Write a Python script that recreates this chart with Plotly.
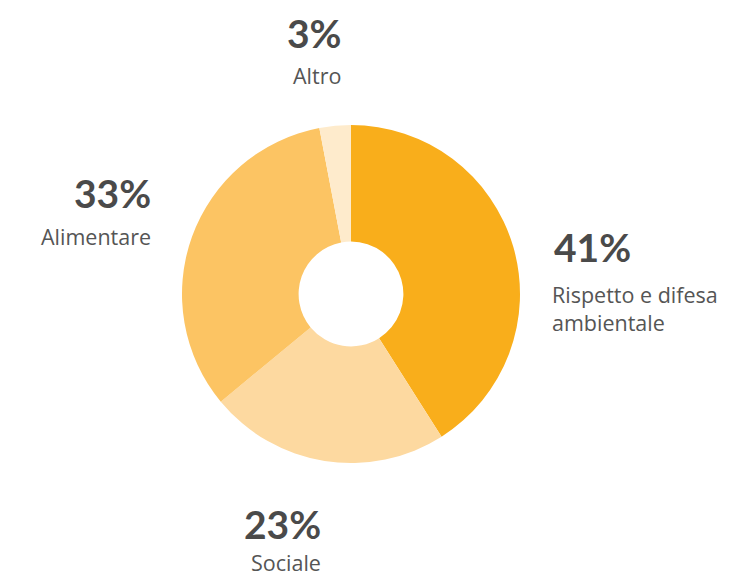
import plotly.graph_objects as go

labels = ["Rispetto e difesa<br>ambientale", "Sociale", "Alimentare", "Altro"]
values = [41, 23, 33, 3]
colors = ["#F9AE1B", "#FDD9A0", "#FCC463", "#FEEBCC"]

W, H = 732, 578
cx, cy, r = 351, 294, 169

fig = go.Figure(go.Pie(
    labels=labels, values=values, sort=False, direction="clockwise", rotation=0,
    hole=0.31, textinfo="none", hoverinfo="label+percent",
    marker=dict(colors=colors, line=dict(width=0)),
    domain=dict(x=[(cx - r) / W, (cx + r) / W], y=[(H - cy - r) / H, (H - cy + r) / H]),
    showlegend=False,
))

txt = "#4A4A4A"
# (pct x, pct y, label x, label y, anchor) in px from top-left
pos = [
    (552, 247, 550, 278, "left"),
    (282, 524, 286, 562, "center"),
    (153, 193, 153, 237, "right"),
    (314, 33, 317, 75, "center"),
]
ann = []
for lab, v, (xp, yp, xl, yl, xa) in zip(labels, values, pos):
    ann.append(dict(x=xp / W, y=1 - yp / H, xref="paper", yref="paper", xanchor=xa, yanchor="middle",
                    text=f"<b>{v}%</b>", showarrow=False,
                    font=dict(family="Lato, sans-serif", size=39, color=txt)))
    ann.append(dict(x=xl / W, y=1 - yl / H, xref="paper", yref="paper", xanchor=xa,
                    yanchor="top" if "<br>" in lab else "middle",
                    align=xa,
                    text=lab, showarrow=False,
                    font=dict(family="Open Sans, sans-serif", size=21.5, color="#555555")))

fig.update_layout(width=W, height=H, margin=dict(l=0, r=0, t=0, b=0),
                  paper_bgcolor="white", plot_bgcolor="white", annotations=ann)
fig.write_html("out.html")
